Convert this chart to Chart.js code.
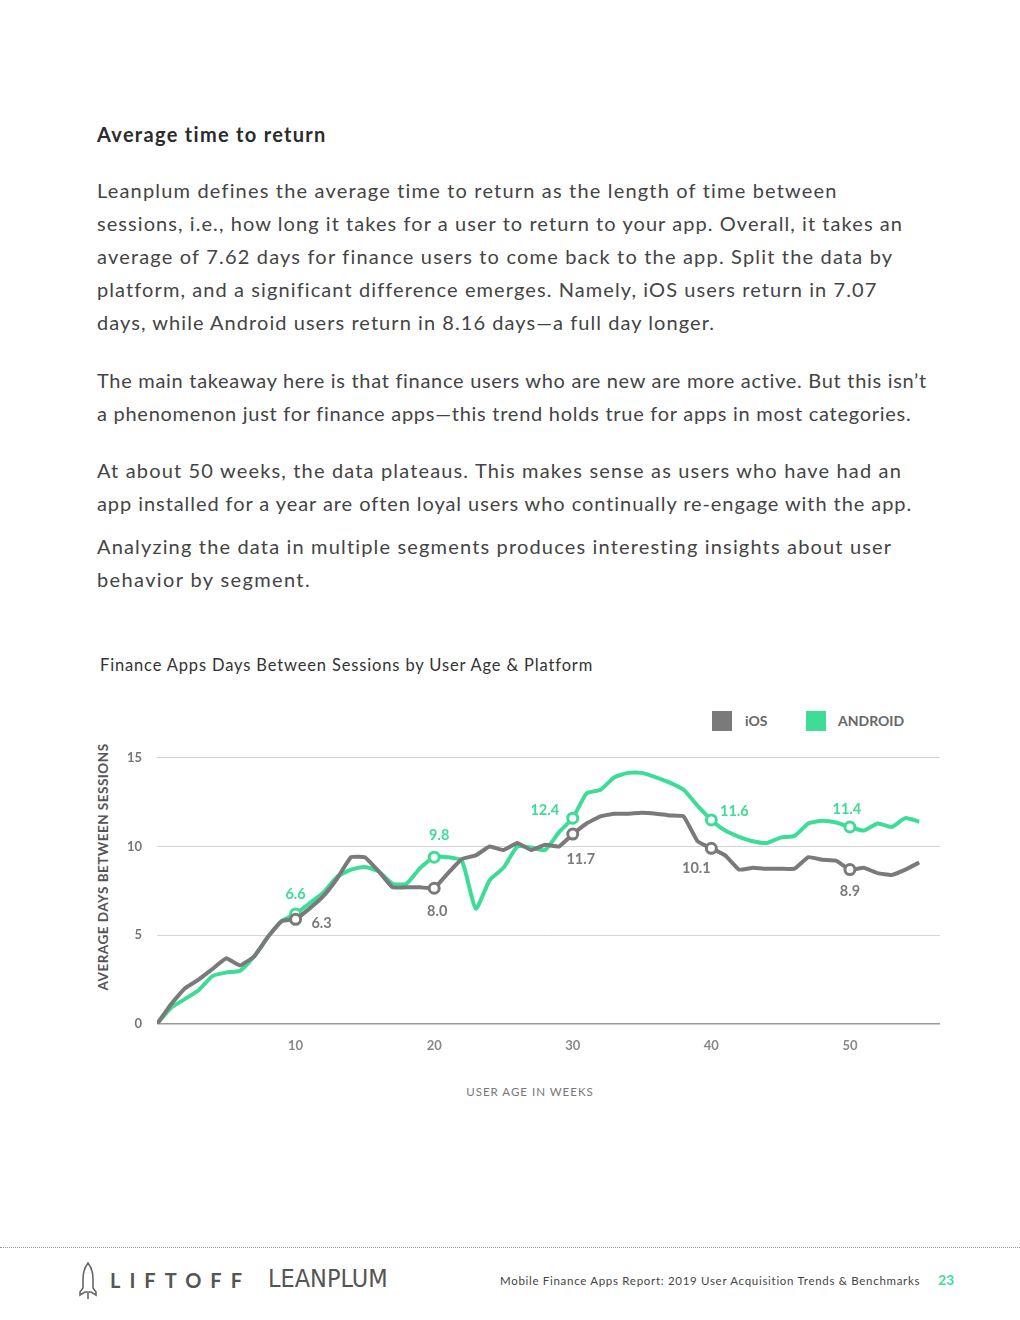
<!DOCTYPE html>
<html>
<head>
<meta charset="utf-8">
<script src="https://cdn.jsdelivr.net/npm/chart.js@4.4.1/dist/chart.umd.min.js"></script>
<style>
  html, body { margin: 0; padding: 0; background: #fff; }
  body { width: 1020px; height: 1320px; position: relative; overflow: hidden; font-family: Lato, "Noto Sans", sans-serif; color: #3a3a3a; }
  .abs { position: absolute; white-space: nowrap; }
  h2 { position: absolute; left: 97px; top: 120px; margin: 0; font-size: 20px; font-weight: 700; color: #2b2b2b; line-height: 28px; letter-spacing: 1.3px; }
  .para { position: absolute; left: 97px; font-size: 20px; line-height: 33px; color: #444; white-space: nowrap; }
  .ln { display: inline-block; }
  .ctitle { left: 100px; top: 654px; font-size: 16.5px; color: #333; line-height: 22px; letter-spacing: 0.85px; }
  .leg-box { position: absolute; width: 20px; height: 20px; }
  .leg-txt { position: absolute; font-size: 14px; font-weight: 700; color: #666; line-height: 20px; }
  .ytitle { left: 103px; top: 867px; font-size: 13.5px; font-weight: 700; color: #555; letter-spacing: 0.5px; transform: translate(-50%, -50%) rotate(-90deg); line-height: 16px; }
  .xtitle { left: 530px; top: 1091px; font-size: 11.5px; color: #777; letter-spacing: 1px; transform: translate(-50%, -50%); }
  #wrap { position: absolute; left: 90px; top: 735px; width: 860px; height: 325px; }
  .footer-line { position: absolute; left: 0; top: 1247px; width: 1020px; border-top: 1px dotted #999; }
  .liftoff { left: 110px; top: 1268px; font-size: 20px; font-weight: 700; color: #555; letter-spacing: 9px; line-height: 24px; }
  .leanplum { left: 268px; top: 1265px; font-size: 25px; color: #555; line-height: 28px; font-family: "Liberation Sans Narrow", "DejaVu Sans Condensed", sans-serif; }
  .foot-txt { left: 500px; top: 1273px; font-size: 11.5px; color: #444; line-height: 16px; letter-spacing: 0.7px; }
  .page { left: 938px; top: 1271px; font-size: 14px; font-weight: 700; color: #3ddc97; line-height: 18px; }
</style>
</head>
<body>
<h2>Average time to return</h2>
<div class="para" style="top:174px"><span class="ln" data-r="838">Leanplum defines the average time to return as the length of time between</span><br><span class="ln" data-r="903">sessions, i.e., how long it takes for a user to return to your app. Overall, it takes an</span><br><span class="ln" data-r="893">average of 7.62 days for finance users to come back to the app. Split the data by</span><br><span class="ln" data-r="876">platform, and a significant difference emerges. Namely, iOS users return in 7.07</span><br><span class="ln" data-r="715">days, while Android users return in 8.16 days—a full day longer.</span></div>
<div class="para" style="top:364px"><span class="ln" data-r="927">The main takeaway here is that finance users who are new are more active. But this isn’t</span><br><span class="ln" data-r="911">a phenomenon just for finance apps—this trend holds true for apps in most categories.</span></div>
<div class="para" style="top:454px"><span class="ln" data-r="902">At about 50 weeks, the data plateaus. This makes sense as users who have had an</span><br><span class="ln" data-r="912">app installed for a year are often loyal users who continually re-engage with the app.</span></div>
<div class="para" style="top:530px"><span class="ln" data-r="893">Analyzing the data in multiple segments produces interesting insights about user</span><br><span class="ln" data-r="311">behavior by segment.</span></div>

<div class="abs ctitle">Finance Apps Days Between Sessions by User Age &amp; Platform</div>

<div class="leg-box" style="left:712px;top:711px;background:#7a7a7a"></div>
<div class="leg-txt" style="left:745px;top:711px">iOS</div>
<div class="leg-box" style="left:806px;top:711px;background:#3ddc97"></div>
<div class="leg-txt" style="left:838px;top:711px">ANDROID</div>

<div class="abs ytitle">AVERAGE DAYS BETWEEN SESSIONS</div>
<div class="abs xtitle">USER AGE IN WEEKS</div>

<div id="wrap"><canvas id="chart"></canvas></div>

<div class="footer-line"></div>
<svg class="abs" style="left:78px;top:1262px" width="20" height="38" viewBox="0 0 20 38">
  <path d="M10 1 C14 6 15 11 15 17 L15 26 L18 30 L18 33 L13 30 L7 30 L2 33 L2 30 L5 26 L5 17 C5 11 6 6 10 1 Z" fill="none" stroke="#666" stroke-width="1.6"/>
  <line x1="10" y1="31" x2="10" y2="37" stroke="#666" stroke-width="1.6"/>
</svg>
<div class="abs liftoff">LIFTOFF</div>
<div class="abs leanplum">LEANPLUM</div>
<div class="abs foot-txt">Mobile Finance Apps Report: 2019 User Acquisition Trends &amp; Benchmarks</div>
<div class="abs page">23</div>

<script>
// stretch each text line so it ends where the page's line ends
document.querySelectorAll('.ln').forEach(el => {
  const target = +el.dataset.r - 97;
  const w = el.getBoundingClientRect().width;
  const n = el.textContent.length;
  el.style.letterSpacing = ((target - w) / n).toFixed(3) + 'px';
});

// weeks 0..55
const weeks = Array.from({ length: 56 }, (_, i) => i);

const iosDays = [
  0, 1.1, 2.0, 2.5, 3.1, 3.7, 3.3, 3.8, 4.9, 5.8,
  5.9, 6.5, 7.2, 8.2, 9.4, 9.4, 8.6, 7.7, 7.7, 7.7,
  7.65, 8.5, 9.3, 9.5, 10.0, 9.8, 10.2, 9.8, 10.1, 10.0,
  10.7, 11.3, 11.7, 11.85, 11.85, 11.9, 11.85, 11.75, 11.7, 10.3,
  9.9, 9.5, 8.7, 8.8, 8.75, 8.75, 8.75, 9.4, 9.25, 9.2,
  8.7, 8.8, 8.5, 8.4, 8.7, 9.1
];

const androidDays = [
  0, 0.9, 1.4, 1.9, 2.7, 2.9, 3.0, 3.8, 4.9, 5.8,
  6.2, 6.8, 7.4, 8.3, 8.7, 8.85, 8.6, 7.9, 7.9, 8.8,
  9.4, 9.4, 9.2, 6.5, 8.1, 8.8, 10.0, 9.95, 9.8, 10.8,
  11.6, 13.0, 13.2, 13.9, 14.15, 14.15, 13.9, 13.6, 13.2, 12.3,
  11.5, 10.9, 10.55, 10.3, 10.2, 10.5, 10.6, 11.3, 11.45, 11.35,
  11.1, 10.9, 11.3, 11.1, 11.6, 11.4
];

const markWeeks = [10, 20, 30, 40, 50];
const iosMarkLabels = ['6.3', '8.0', '11.7', '10.1', '8.9'];
const androidMarkLabels = ['6.6', '9.8', '12.4', '11.6', '11.4'];

const yTicks = [0, 5, 10, 15];
const xTicks = [10, 20, 30, 40, 50];

const GRAY = '#7a7a7a';
const GREEN = '#3ddc97';

const toPoints = (vals) => weeks.map((w, i) => ({ x: w, y: vals[i] }));
const radii = weeks.map(w => markWeeks.includes(w) ? 5 : 0);

// label offsets relative to the marker (px)
const iosOffsets = [[26, 4], [3, 23], [8, 25], [-15, 20], [0, 22]];
const androidOffsets = [[0, -20], [5, -22], [-28, -8], [23, -9], [-3, -18]];

const markerLabels = {
  id: 'markerLabels',
  afterDatasetsDraw(chart) {
    const ctx = chart.ctx;
    ctx.save();
    ctx.font = '700 14.5px Lato, sans-serif';
    ctx.textAlign = 'center';
    ctx.textBaseline = 'middle';
    const sets = [
      { idx: 0, labels: iosMarkLabels, offs: iosOffsets, color: GRAY },
      { idx: 1, labels: androidMarkLabels, offs: androidOffsets, color: GREEN }
    ];
    sets.forEach(s => {
      const meta = chart.getDatasetMeta(s.idx);
      markWeeks.forEach((w, k) => {
        const pt = meta.data[weeks.indexOf(w)];
        ctx.fillStyle = s.color;
        ctx.fillText(s.labels[k], pt.x + s.offs[k][0], pt.y + s.offs[k][1]);
      });
    });
    ctx.restore();
  }
};

new Chart(document.getElementById('chart'), {
  type: 'line',
  data: {
    datasets: [
      {
        label: 'iOS',
        data: toPoints(iosDays),
        borderColor: GRAY,
        borderWidth: 4,
        tension: 0.1,
        pointRadius: radii,
        pointHoverRadius: radii,
        pointBackgroundColor: '#fff',
        pointBorderColor: GRAY,
        pointBorderWidth: 3
      },
      {
        label: 'ANDROID',
        data: toPoints(androidDays),
        borderColor: GREEN,
        borderWidth: 4,
        tension: 0.18,
        pointRadius: radii,
        pointHoverRadius: radii,
        pointBackgroundColor: '#fff',
        pointBorderColor: GREEN,
        pointBorderWidth: 3
      }
    ]
  },
  options: {
    responsive: true,
    maintainAspectRatio: false,
    animation: false,
    layout: { padding: { top: 12, right: 10, left: 0, bottom: 0 } },
    plugins: {
      legend: { display: false },
      tooltip: { enabled: false }
    },
    scales: {
      x: {
        type: 'linear',
        min: 0,
        max: 56.5,
        afterBuildTicks: (scale) => { scale.ticks = xTicks.map(v => ({ value: v })); },
        afterFit: (scale) => { scale.height = 36; },
        grid: { display: false },
        border: { display: false },
        ticks: {
          color: '#888',
          padding: 6,
          maxRotation: 0,
          font: { family: 'Lato', size: 13, weight: '700' }
        }
      },
      y: {
        min: 0,
        max: 15,
        afterBuildTicks: (scale) => { scale.ticks = yTicks.map(v => ({ value: v })); },
        afterFit: (scale) => { scale.width = 67; },
        grid: {
          color: (c) => c.tick && c.tick.value === 0 ? '#9a9a9a' : '#d4d4d4',
          lineWidth: (c) => c.tick && c.tick.value === 0 ? 1.5 : 1,
          drawTicks: false
        },
        border: { display: false },
        ticks: {
          color: '#777',
          padding: 15,
          font: { family: 'Lato', size: 13, weight: '700' }
        }
      }
    }
  },
  plugins: [markerLabels]
});
</script>
</body>
</html>
